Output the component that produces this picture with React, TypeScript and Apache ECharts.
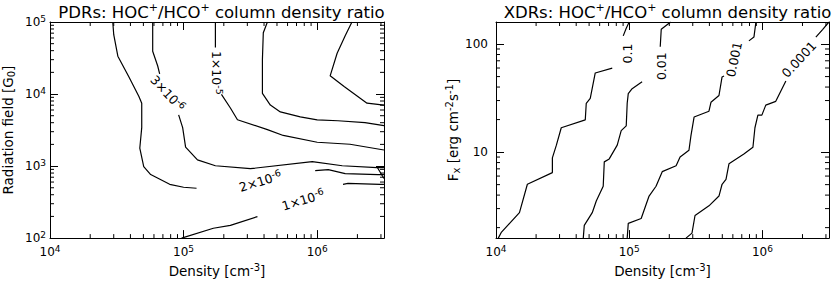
import React, { useEffect, useRef } from 'react';
import * as echarts from 'echarts';

const FONT = '"DejaVu Sans", Verdana, sans-serif';

// ---------- Axis ranges ----------
const densityRange = [1e4, Math.pow(10, 6.5)];
const fieldRange = [1e2, 1e5];
const fluxRange = [1.6, 160];

// ---------- PDR contours (density [cm^-3], G0) ----------
const pdrA = [[2.95e4, 1e5], [3.0e4, 6.66e4], [3.22e4, 3.35e4], [3.89e4, 1.74e4], [4.62e4, 9.3e3], [4.86e4, 7.47e3], [4.86e4, 3.42e3], [4.7e4, 1.77e3], [5.03e4, 980], [5.67e4, 762], [7.87e4, 558], [1.0e5, 508], [1.25e5, 492]];
const pdrB1 = [[5.87e4, 1e5], [5.87e4, 3.92e4], [6.4e4, 2.45e4], [6.62e4, 1.91e4]];
const pdrB2 = [[9.18e4, 5.13e3], [9.84e4, 3.42e3], [1.035e5, 1.83e3], [1.27e5, 1.22e3], [1.73e5, 1.01e3], [3.16e5, 920], [9.18e5, 1.15e3], [1.54e6, 1.01e3], [2.8e6, 949], [3.16e6, 949]];
const pdrC1 = [[1.73e5, 1e5], [1.73e5, 4.44e4]];
const pdrC2 = [[1.92e5, 9.9e3], [2.24e5, 6.39e3], [2.53e5, 4.39e3], [4.24e5, 3.21e3], [5.57e5, 2.66e3], [1e6, 2.14e3], [1.76e6, 2.01e3], [3.16e6, 1.67e3]];
const pdrD = [[4.24e5, 1e5], [3.95e5, 7.1e4], [3.89e5, 3.05e4], [3.89e5, 1.02e4], [4.46e5, 7.02e3], [5.3e5, 5.64e3], [7.47e5, 4.82e3], [1e6, 4.39e3], [1.43e6, 4.26e3], [2.28e6, 4.0e3], [3.16e6, 3.64e3]];
const pdrE = [[1.82e6, 1e5], [1.62e6, 6.45e4], [1.41e6, 3.68e4], [1.25e6, 1.79e4], [1.59e6, 1.27e4], [2.36e6, 7.47e3], [3.16e6, 7.02e3]];
const pdrF = [[9.66e5, 865], [1.21e6, 891], [1.62e6, 787], [2.85e6, 762], [3.16e6, 762]];
const pdrG = [[1.56e6, 558], [1.70e6, 575], [2.95e6, 558], [3.16e6, 558]];
const pdrK = [[2.8e6, 980], [3.16e6, 673]];
const pdrH = [[9.66e4, 100], [1.67e5, 137], [2.24e5, 150], [3.57e5, 199]];
const pdrSegments = [pdrA, pdrB1, pdrB2, pdrC1, pdrC2, pdrD, pdrE, pdrF, pdrG, pdrK, pdrH];

const pdrLabelText = ['3×10{sup|-6}', '1×10{sup|-5}', '2×10{sup|-6}', '1×10{sup|-6}'];
const pdrLabelPos = [[7.6e4, 1.02e4], [1.76e5, 1.97e4], [3.76e5, 613], [7.86e5, 338]];

// ---------- XDR contours (density [cm^-3], Fx [erg cm^-2 s^-1]) ----------
const xdr1a = [[1.04e4, 1.6], [1.1e4, 1.82], [1.5e4, 2.75], [1.72e4, 5.04], [2.65e4, 6.46], [2.65e4, 8.83], [2.84e4, 11.6], [3.09e4, 16.8], [4.68e4, 19.9], [4.76e4, 28.3], [5.1e4, 31.4], [5.56e4, 54], [7.46e4, 59.8]];
const xdr1b = [[9.02e4, 119], [9.5e4, 140], [1e5, 160]];
const xdr2a = [[4.52e4, 1.6], [4.6e4, 2.1], [5.28e4, 2.75], [5.66e4, 3.53], [6.38e4, 4.83], [6.5e4, 8.12], [7.08e4, 8.65], [8.13e4, 11.6], [8.71e4, 15.8], [9.5e4, 17.5], [9.66e4, 28.3], [9.84e4, 34.8], [1.052e5, 38.6], [1.25e5, 44.7]];
const xdr2b = [[1.71e5, 94.6], [1.74e5, 137], [1.99e5, 156], [2.06e5, 160]];
const xdr3a = [[9.66e4, 1.6], [9.84e4, 2.19], [1.23e5, 2.43], [1.41e5, 3.92], [1.59e5, 4.83], [1.77e5, 6.59], [2.25e5, 7.48], [2.41e5, 9.02], [2.81e5, 10.4], [2.91e5, 14.3], [3.07e5, 21.1], [3.97e5, 23.9], [4.11e5, 28.9], [4.72e5, 33.4], [4.98e5, 49.6], [5.15e5, 50.7]];
const xdr3b = [[7.92e5, 107], [8.64e5, 116], [8.94e5, 160]];
const xdr4a = [[2.67e5, 1.6], [2.96e5, 1.78], [3.12e5, 2.59], [3.97e5, 3.18], [4.72e5, 3.92], [4.98e5, 5.04], [5.33e5, 5.58], [5.61e5, 7.8], [7.26e5, 9.6], [8.49e5, 11.1], [8.79e5, 16.8], [9.25e5, 22], [9.91e5, 22], [1.06e6, 27.2], [1.26e6, 29.5], [1.5e6, 45.6]];
const xdr4b = [[2.52e6, 116], [2.84e6, 137], [3.16e6, 160]];
const xdrSegments = [xdr1a, xdr1b, xdr2a, xdr2b, xdr3a, xdr3b, xdr4a, xdr4b];

const xdrLabelText = ['0.1', '0.01', '0.001', '0.0001'];
const xdrLabelPos = [[9.66e4, 81.7], [1.74e5, 62.4], [6.12e5, 72.1], [1.88e6, 72.1]];

// ---------- label angles (style) ----------
const pdrLabelAngle = [-47, -90, 17, 17];
const xdrLabelAngle = [90, 90, 78, 47];

// ---------- tick values ----------
const minorOf = (decades: number[], upTo: number) => {
  const out: number[] = [];
  decades.forEach((d) => {
    for (let m = 2; m <= 9; m++) if (m * d < upTo) out.push(m * d);
  });
  return out;
};
const densityMinor = minorOf([1e4, 1e5, 1e6], densityRange[1]);
const fieldMinor = minorOf([1e2, 1e3, 1e4], fieldRange[1]);
const fluxMinor = minorOf([1, 10, 100], fluxRange[1]).filter((v) => v > fluxRange[0]);

const black = '#000';
const supTick = { fontSize: 9, padding: [0, 0, 6, 0], fontFamily: FONT, color: black };
const supLabel = { fontSize: 9.5, padding: [0, 0, 6, 0], fontFamily: FONT, color: black, textBorderWidth: 0 };
const supName = { fontSize: 10, padding: [0, 0, 7, 0], fontFamily: FONT, color: black };
const subName = { fontSize: 10, padding: [6, 0, 0, 0], fontFamily: FONT, color: black };

const powLabel = (v: number) => {
  const e = Math.log10(v);
  const r = Math.round(e);
  if (Math.abs(e - r) > 1e-6) return '';
  return '10{sup|' + r + '}';
};
const plainPowLabel = (v: number) => {
  const e = Math.log10(v);
  const r = Math.round(e);
  if (Math.abs(e - r) > 1e-6) return '';
  return String(Math.round(v));
};

function xAxisDef(grid: number, top: boolean) {
  return {
    gridIndex: grid,
    type: 'log',
    min: densityRange[0],
    max: densityRange[1],
    position: top ? 'top' : 'bottom',
    axisLine: { show: true, onZero: false, lineStyle: { color: black, width: 1 } },
    axisTick: { show: true, inside: true, length: 8, lineStyle: { color: black, width: 1 } },
    axisLabel: top
      ? { show: false }
      : { show: true, margin: 6, color: black, fontSize: 12, fontFamily: FONT, formatter: powLabel, rich: { sup: supTick }, showMinLabel: true, showMaxLabel: true },
    splitLine: { show: false },
    name: top ? '' : 'Density [cm{sup|-3}]',
    nameLocation: 'middle',
    nameGap: 22,
    nameTextStyle: { color: black, fontSize: 13.5, fontFamily: FONT, rich: { sup: supName } },
  };
}

function yAxisDef(grid: number, right: boolean, pdr: boolean) {
  const range = pdr ? fieldRange : fluxRange;
  return {
    gridIndex: grid,
    type: 'log',
    min: range[0],
    max: range[1],
    position: right ? 'right' : 'left',
    axisLine: { show: true, onZero: false, lineStyle: { color: black, width: 1 } },
    axisTick: { show: true, inside: true, length: 8, lineStyle: { color: black, width: 1 } },
    axisLabel: right
      ? { show: false }
      : {
          show: true,
          margin: pdr ? 4 : 8,
          color: black,
          fontSize: 12,
          fontFamily: FONT,
          formatter: pdr ? powLabel : plainPowLabel,
          rich: { sup: supTick },
          showMinLabel: true,
          showMaxLabel: true,
        },
    splitLine: { show: false },
    name: right ? '' : pdr ? 'Radiation field [G{sub|0}]' : 'F{sub|x} [erg cm{sup|-2}s{sup|-1}]',
    nameLocation: 'middle',
    nameGap: pdr ? 34 : 32,
    nameTextStyle: { color: black, fontSize: 13.5, fontFamily: FONT, rich: { sup: supName, sub: subName } },
  };
}

function minorX(xIdx: number, yIdx: number, yRef: number, ticks: number[]) {
  return {
    type: 'custom',
    xAxisIndex: xIdx,
    yAxisIndex: yIdx,
    silent: true,
    data: ticks.map((v) => [v, yRef]),
    renderItem: (params: any, api: any) => {
      const p = api.coord([api.value(0), api.value(1)]);
      const cs = params.coordSys;
      const st = { stroke: black, lineWidth: 1 };
      return {
        type: 'group',
        children: [
          { type: 'line', shape: { x1: p[0], y1: cs.y + cs.height, x2: p[0], y2: cs.y + cs.height - 4 }, style: st },
          { type: 'line', shape: { x1: p[0], y1: cs.y, x2: p[0], y2: cs.y + 4 }, style: st },
        ],
      };
    },
  };
}

function minorY(xIdx: number, yIdx: number, xRef: number, ticks: number[]) {
  return {
    type: 'custom',
    xAxisIndex: xIdx,
    yAxisIndex: yIdx,
    silent: true,
    data: ticks.map((v) => [xRef, v]),
    renderItem: (params: any, api: any) => {
      const p = api.coord([api.value(0), api.value(1)]);
      const cs = params.coordSys;
      const st = { stroke: black, lineWidth: 1 };
      return {
        type: 'group',
        children: [
          { type: 'line', shape: { x1: cs.x, y1: p[1], x2: cs.x + 4, y2: p[1] }, style: st },
          { type: 'line', shape: { x1: cs.x + cs.width, y1: p[1], x2: cs.x + cs.width - 4, y2: p[1] }, style: st },
        ],
      };
    },
  };
}

function lineSeries(xIdx: number, yIdx: number, seg: number[][]) {
  return {
    type: 'line',
    xAxisIndex: xIdx,
    yAxisIndex: yIdx,
    data: seg,
    showSymbol: false,
    symbol: 'none',
    silent: true,
    lineStyle: { color: black, width: 1.2 },
  };
}

function labelSeries(xIdx: number, yIdx: number, texts: string[], pos: number[][], angles: number[]) {
  return {
    type: 'scatter',
    xAxisIndex: xIdx,
    yAxisIndex: yIdx,
    symbolSize: 0,
    silent: true,
    itemStyle: { color: black, opacity: 1 },
    data: pos.map((p, i) => ({
      value: p,
      label: { rotate: angles[i] },
    })),
    label: {
      show: true,
      position: [0, 0],
      align: 'center',
      verticalAlign: 'middle',
      color: black,
      opacity: 1,
      textBorderWidth: 0,
      textBorderColor: 'transparent',
      fontSize: 12.5,
      fontFamily: FONT,
      formatter: (params: any) => texts[params.dataIndex],
      rich: { sup: supLabel },
    },
  };
}

function buildOption() {
  const titleStyle = {
    color: black,
    fontSize: 16.5,
    fontWeight: 'normal',
    fontFamily: FONT,
    rich: { sup: { fontSize: 11, padding: [0, 0, 9, 0], fontFamily: FONT, color: black } },
  };
  return {
    animation: false,
    backgroundColor: '#fff',
    textStyle: { fontFamily: FONT },
    title: [
      { text: 'PDRs: HOC{sup|+}/HCO{sup|+} column density ratio', left: 216.5, top: -3, textAlign: 'center', textStyle: titleStyle },
      { text: 'XDRs: HOC{sup|+}/HCO{sup|+} column density ratio', left: 662.5, top: -3, textAlign: 'center', textStyle: titleStyle },
    ],
    grid: [
      { left: 49, top: 22, width: 335, height: 221 },
      { left: 496, top: 22, width: 335, height: 221 },
    ],
    xAxis: [xAxisDef(0, false), xAxisDef(0, true), xAxisDef(1, false), xAxisDef(1, true)],
    yAxis: [yAxisDef(0, false, true), yAxisDef(0, true, true), yAxisDef(1, false, false), yAxisDef(1, true, false)],
    series: [
      minorX(0, 0, fieldRange[0], densityMinor),
      minorY(0, 0, densityRange[0], fieldMinor),
      minorX(2, 2, fluxRange[0], densityMinor),
      minorY(2, 2, densityRange[0], fluxMinor),
      ...pdrSegments.map((s) => lineSeries(0, 0, s)),
      ...xdrSegments.map((s) => lineSeries(2, 2, s)),
      labelSeries(0, 0, pdrLabelText, pdrLabelPos, pdrLabelAngle),
      labelSeries(2, 2, xdrLabelText, xdrLabelPos, xdrLabelAngle),
    ],
  };
}

export default function App() {
  const ref = useRef<HTMLDivElement>(null);
  useEffect(() => {
    const chart = echarts.init(ref.current as HTMLDivElement, null, { renderer: 'svg' });
    chart.setOption(buildOption() as any);
    return () => chart.dispose();
  }, []);
  return <div ref={ref} style={{ position: 'fixed', left: 0, top: 0, width: 832, height: 283 }} />;
}
